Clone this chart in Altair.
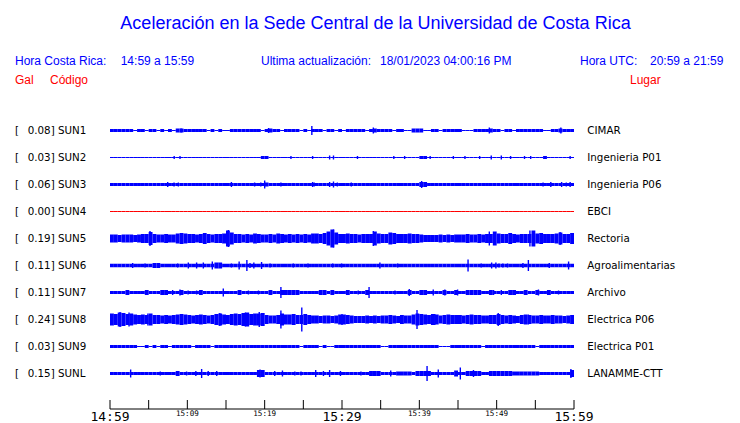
import altair as alt
import pandas as pd

# ---------------- data ----------------
stations = ["SUN1", "SUN2", "SUN3", "SUN4", "SUN5", "SUN6", "SUN7", "SUN8", "SUN9", "SUNL"]
peaks = ["0.08", "0.03", "0.06", "0.00", "0.19", "0.11", "0.11", "0.24", "0.03", "0.15"]
places = ["CIMAR", "Ingenieria P01", "Ingenieria P06", "EBCI", "Rectoria",
          "Agroalimentarias", "Archivo", "Electrica P06", "Electrica P01", "LANAMME-CTT"]
trace_colors = ["#0000ff", "#0000ff", "#0000ff", "#ff0000", "#0000ff",
                "#0000ff", "#0000ff", "#0000ff", "#0000ff", "#0000ff"]

tick_minutes = [0, 5, 10, 15, 20, 25, 30, 35, 40, 45, 50, 55, 60]
major_ticks = [0, 30, 60]
major_labels = ["14:59", "15:29", "15:59"]
minor_ticks = [10, 20, 40, 50]
minor_labels = ["15:09", "15:19", "15:39", "15:49"]

BIN = 0.5  # minutes per envelope bin (120 bins)

# envelope (full band height in px) per 0.5 min bin
env_sun1 = [3, 3, 3, 3, 3, 3, 1, 3, 3, 1, 3, 3, 1, 3, 1, 3, 1, 4, 4, 3,
            3, 3, 3, 3, 3, 1, 3, 1, 3, 1, 1, 3, 3, 3, 3, 3, 3, 3, 3, 1,
            3, 4, 3, 3, 1, 3, 3, 3, 3, 1, 3, 1, 3, 3, 3, 1, 3, 3, 1, 3,
            1, 3, 3, 3, 3, 3, 1, 3, 4, 3, 3, 3, 3, 1, 3, 3, 1, 1, 4, 4,
            4, 1, 1, 3, 3, 1, 3, 3, 3, 3, 3, 1, 1, 1, 3, 3, 3, 3, 4, 3,
            3, 1, 3, 3, 1, 3, 3, 3, 3, 3, 3, 3, 1, 1, 3, 3, 4, 3, 3, 3]
env_sun5 = [8, 8, 7, 8, 8, 8, 7, 8, 9, 9, 13, 9, 8, 8, 9, 8, 8, 10, 11, 10,
            9, 9, 8, 9, 11, 9, 8, 9, 9, 10, 16, 12, 9, 9, 8, 9, 8, 10, 9, 8,
            8, 9, 8, 10, 9, 8, 9, 8, 9, 8, 9, 8, 10, 10, 9, 11, 14, 18, 12, 9,
            9, 10, 9, 9, 8, 9, 9, 9, 14, 10, 9, 9, 12, 11, 9, 9, 9, 10, 9, 9,
            8, 7, 7, 7, 7, 8, 7, 8, 7, 8, 8, 8, 9, 8, 8, 9, 8, 9, 9, 14,
            10, 9, 9, 11, 9, 8, 9, 9, 9, 16, 10, 11, 9, 9, 9, 10, 12, 9, 9, 11]
env_sun8 = [12, 11, 14, 13, 11, 12, 10, 9, 10, 9, 12, 9, 9, 8, 9, 8, 9, 10, 11, 10,
            9, 8, 9, 10, 9, 8, 9, 11, 12, 10, 9, 11, 12, 11, 13, 14, 11, 12, 12, 13,
            9, 8, 8, 9, 12, 10, 10, 11, 9, 9, 11, 9, 8, 8, 7, 8, 8, 7, 8, 10,
            10, 9, 8, 7, 7, 7, 8, 7, 8, 7, 8, 8, 9, 8, 7, 9, 8, 8, 10, 12,
            11, 10, 9, 11, 10, 8, 9, 10, 9, 9, 9, 8, 9, 10, 9, 9, 8, 8, 9, 9,
            11, 9, 8, 9, 8, 7, 9, 10, 9, 8, 8, 9, 8, 8, 9, 8, 8, 7, 8, 9]

# base line thickness (px) and bursts (bin index, band height px)
base_sun2, bursts_sun2 = 1, [(39, 3), (40, 3), (80, 3), (81, 3), (112, 3)]
base_sun3, bursts_sun3 = 3, [(40, 4), (80, 5), (81, 5)]
base_sun4, bursts_sun4 = 1, []
base_sun6, bursts_sun6 = 3.5, [(11, 5), (12, 5), (27, 6), (28, 6)]
base_sun7, bursts_sun7 = 3, [(4, 5), (9, 5), (13, 5), (14, 5), (18, 5), (23, 5), (33, 5), (41, 5),
                             (44, 5), (45, 5), (46, 5), (47, 5), (48, 5), (54, 5), (55, 5), (57, 5),
                             (61, 5), (66, 5), (77, 5), (80, 5), (81, 5), (86, 5), (89, 5), (92, 5),
                             (93, 5), (94, 5), (95, 5), (98, 5), (103, 5), (104, 5), (107, 5),
                             (110, 5), (113, 5)]
base_sun9, bursts_sun9 = 3, [(7, 1), (8, 1), (10, 1), (12, 1), (15, 1), (21, 1), (26, 1), (49, 1),
                             (54, 1), (56, 1), (57, 1), (70, 1), (71, 1), (85, 1), (86, 1), (87, 1),
                             (96, 1), (110, 1)]
base_sunl, bursts_sunl = 3, [(17, 5), (38, 7), (39, 7), (67, 5), (68, 5), (69, 5), (74, 4), (75, 4),
                             (76, 4), (77, 4), (79, 5), (80, 5), (81, 5), (82, 5), (89, 6), (92, 5),
                             (93, 5), (94, 5), (95, 5), (98, 5), (99, 5), (100, 5), (101, 5),
                             (102, 5), (103, 5), (104, 4), (105, 4), (106, 4), (107, 4), (108, 4),
                             (109, 4), (110, 4), (119, 7)]

# spikes: (minute, full height px)
spk_sun1 = [(9.2, 4), (20.5, 5), (26.1, 9), (34.05, 6), (49.05, 6), (58.3, 6)]
spk_sun2 = [(8.3, 3), (9.05, 3), (23.4, 3), (26.2, 3), (28.4, 4), (28.9, 4), (32.0, 3), (36.7, 3),
            (38.1, 3), (41.4, 3), (44.4, 3), (45.9, 3), (47.8, 3), (49.3, 4), (50.6, 4), (51.8, 3),
            (53.6, 3), (54.4, 3), (59.5, 3)]
spk_sun3 = [(7.46, 5), (8.28, 4), (8.84, 4), (15.7, 5), (18.7, 4), (19.5, 4), (20.0, 8), (22.1, 4),
            (26.2, 5), (26.4, 4), (28.4, 5), (28.9, 6), (29.4, 4), (31.2, 4), (40.3, 7), (56.0, 4),
            (57.0, 5), (58.4, 5), (59.0, 4), (59.5, 5)]
spk_sun4 = []
spk_sun5 = [(5.17, 15), (15.3, 17), (28.9, 18), (34.05, 15), (49.05, 14), (54.3, 16), (58.2, 13)]
spk_sun6 = [(2.93, 5), (4.53, 4), (8.75, 4), (10.13, 6), (11.2, 6), (12.07, 6), (13.23, 8), (15.7, 4),
            (16.7, 8), (17.7, 11), (18.1, 5), (18.6, 6), (19.6, 7), (20.7, 4), (23.7, 4), (25.6, 4),
            (28.8, 4), (29.95, 4), (34.9, 6), (37.2, 4), (46.3, 12), (48.0, 4), (49.35, 6), (49.9, 6),
            (50.3, 4), (50.8, 4), (51.4, 4), (53.4, 5), (54.1, 11), (56.8, 5), (59.3, 8)]
spk_sun7 = [(2.37, 5), (8.1, 5), (9.05, 6), (10.1, 4), (11.2, 4), (14.65, 8), (17.9, 4), (19.2, 4),
            (22.1, 11), (32.1, 4), (33.5, 11), (36.85, 4), (38.7, 7), (41.8, 6), (43.3, 6),
            (44.95, 6), (49.6, 5), (50.6, 5), (55.4, 6), (58.0, 4)]
spk_sun8 = [(1.3, 15), (2.46, 14), (4.9, 12), (14.2, 13), (17.5, 14), (19.3, 15), (22.1, 18),
            (24.8, 24), (30.0, 11), (39.7, 19), (42.0, 11), (50.2, 13), (54.1, 10)]
spk_sun9 = []
spk_sunl = [(2.67, 8), (6.5, 4), (9.9, 4), (11.1, 5), (11.85, 9), (12.7, 5), (13.8, 5), (15.4, 3),
            (19.4, 8), (21.3, 5), (22.3, 6), (23.9, 4), (24.7, 4), (26.6, 7), (27.6, 5), (28.4, 7),
            (29.8, 5), (32.45, 4), (36.3, 6), (41.0, 15), (42.45, 8), (45.3, 12), (47.0, 7), (59.6, 9)]

# ---------------- build tables ----------------
ROW_PX = 27.0
NBINS = 120


def from_base(base, bursts):
    env = [base] * NBINS
    for i, h in bursts:
        env[i] = h
    return env


envelopes = [env_sun1, from_base(base_sun2, bursts_sun2), from_base(base_sun3, bursts_sun3),
             from_base(base_sun4, bursts_sun4), env_sun5, from_base(base_sun6, bursts_sun6),
             from_base(base_sun7, bursts_sun7), env_sun8, from_base(base_sun9, bursts_sun9),
             from_base(base_sunl, bursts_sunl)]
spikes = [spk_sun1, spk_sun2, spk_sun3, spk_sun4, spk_sun5, spk_sun6, spk_sun7, spk_sun8,
          spk_sun9, spk_sunl]

band_rows = []
for r, env in enumerate(envelopes):
    for i, h in enumerate(env):
        band_rows.append({"t0": i * BIN, "t1": (i + 1) * BIN,
                          "y": r - h / 2 / ROW_PX, "y2": r + h / 2 / ROW_PX,
                          "col": trace_colors[r]})
bands_df = pd.DataFrame(band_rows)

spk_rows = []
for r, lst in enumerate(spikes):
    for t, h in lst:
        spk_rows.append({"t": t, "y": r - h / 2 / ROW_PX, "y2": r + h / 2 / ROW_PX,
                         "col": trace_colors[r]})
spk_df = pd.DataFrame(spk_rows)

labels_df = pd.DataFrame({"row": list(range(len(stations))),
                          "left": [f"{p}] {s}" for p, s in zip(peaks, stations)],
                          "place": places})

xs = alt.Scale(domain=[0, 60], nice=False, zero=False)
ys = alt.Scale(domain=[-0.5, 10.5], reverse=True, nice=False, zero=False)

bands = alt.Chart(bands_df).mark_rect().encode(
    x=alt.X("t0:Q", scale=xs, axis=None), x2="t1:Q",
    y=alt.Y("y:Q", scale=ys, axis=None), y2="y2:Q",
    color=alt.Color("col:N", scale=None))

spk = alt.Chart(spk_df).mark_rule(strokeWidth=1.4).encode(
    x=alt.X("t:Q", scale=xs, axis=None),
    y=alt.Y("y:Q", scale=ys, axis=None), y2="y2:Q",
    color=alt.Color("col:N", scale=None))

bracket = alt.Chart(labels_df).mark_text(align="left", baseline="middle", font="DejaVu Sans",
                                         fontSize=10.3, color="black").encode(
    x=alt.value(-95), y=alt.Y("row:Q", scale=ys, axis=None), text=alt.value("["))
left_lab = alt.Chart(labels_df).mark_text(align="left", baseline="middle", font="DejaVu Sans",
                                          fontSize=10.3, color="black").encode(
    x=alt.value(-82.3), y=alt.Y("row:Q", scale=ys, axis=None), text="left:N")
right_lab = alt.Chart(labels_df).mark_text(align="left", baseline="middle", font="DejaVu Sans",
                                           fontSize=10.3, color="black").encode(
    x=alt.value(477.3), y=alt.Y("row:Q", scale=ys, axis=None), text="place:N")

# time axis drawn by hand (ticks point upward)
axis_df = pd.DataFrame({"a": [tick_minutes[0]], "b": [tick_minutes[-1]]})
axis_line = alt.Chart(axis_df).mark_rule(color="black", strokeWidth=1).encode(
    x=alt.X("a:Q", scale=xs, axis=None), x2="b:Q", y=alt.value(292))
ticks = alt.Chart(pd.DataFrame({"t": tick_minutes})).mark_rule(color="black", strokeWidth=1).encode(
    x=alt.X("t:Q", scale=xs, axis=None), y=alt.value(283), y2=alt.value(292))
maj = alt.Chart(pd.DataFrame({"t": major_ticks, "lab": major_labels})).mark_text(
    align="center", baseline="alphabetic", font="DejaVu Sans Mono", fontSize=13, color="black").encode(
    x=alt.X("t:Q", scale=xs, axis=None), y=alt.value(303.5), text="lab:N")
mino = alt.Chart(pd.DataFrame({"t": minor_ticks, "lab": minor_labels})).mark_text(
    align="center", baseline="alphabetic", font="DejaVu Sans Mono", fontSize=7.6, color="black").encode(
    x=alt.X("t:Q", scale=xs, axis=None), y=alt.value(299), text="lab:N")


def txt(s, x, y, size, color, align="left", font="Liberation Sans"):
    return alt.Chart(pd.DataFrame({"s": [s]})).mark_text(
        align=align, baseline="alphabetic", font=font, fontSize=size, color=color).encode(
        x=alt.value(x), y=alt.value(y), text="s:N")


title_text = "Aceleración en la Sede Central de la Universidad de Costa Rica"
header = [
    txt(title_text, 265.5, -88, 18, "#0000ff", align="center"),
    txt("Hora Costa Rica:", -95, -52, 12, "#0000ff"),
    txt("14:59 a 15:59", 10.7, -52, 12, "#0000ff"),
    txt("Ultima actualización:", 151, -52, 12, "#0000ff"),
    txt("18/01/2023 04:00:16 PM", 270, -52, 12, "#0000ff"),
    txt("Hora UTC:", 470, -52, 12, "#0000ff"),
    txt("20:59 a 21:59", 540, -52, 12, "#0000ff"),
    txt("Gal", -95, -33, 12, "#ff0000"),
    txt("Código", -60, -33, 12, "#ff0000"),
    txt("Lugar", 520, -33, 12, "#ff0000"),
]

chart = alt.layer(bands, spk, bracket, left_lab, right_lab, axis_line, ticks, maj, mino,
                  *header).properties(
    width=464, height=297,
    autosize=alt.AutoSizeParams(type="none"),
    padding={"left": 102, "top": 109, "right": 158, "bottom": 9},
    background="white",
).configure_view(stroke=None)

chart.save("out.html", embed_options={"renderer": "svg", "actions": False})
